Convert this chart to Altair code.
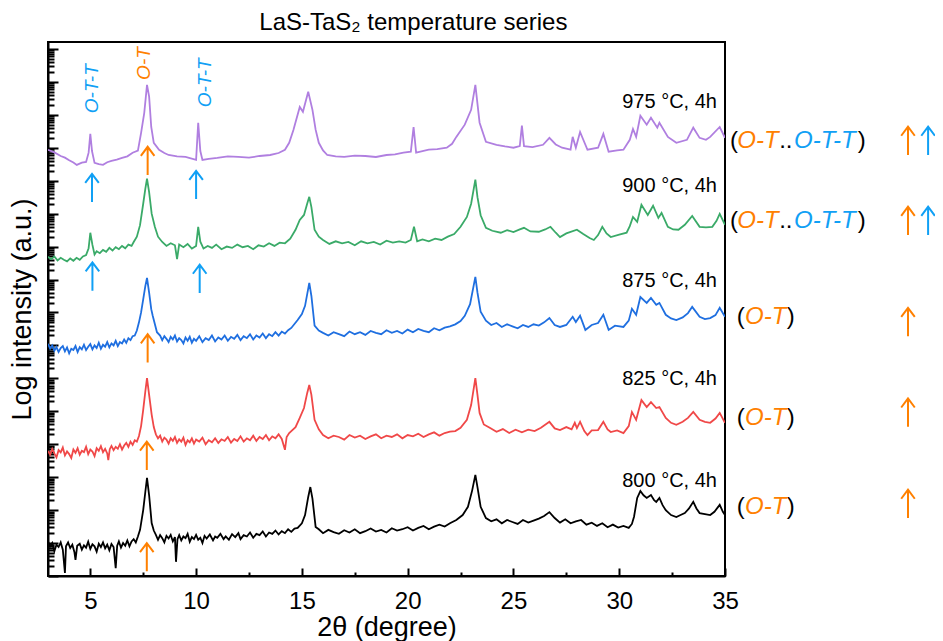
import altair as alt
import pandas as pd

FONT = "Liberation Sans"
PURPLE = "#b07fe0"
GREEN = "#3aaa68"
BLUE_LINE = "#1f6fe0"
RED = "#f04848"
BLACK = "#000000"
ORANGE = "#ff8000"
LBLUE = "#10a0f5"

# ---------------- traces: (2theta in deg, log10 intensity incl. stacking offset) ----------------
trace_975 = [
    (3.0, 12.94), (3.3, 12.86), (3.6, 12.75), (3.8, 12.70), (4.0, 12.62), (4.2, 12.55), (4.36, 12.48),
    (4.6, 12.55), (4.8, 12.57), (4.92, 12.85), (5.0, 13.42), (5.08, 12.9), (5.2, 12.54), (5.4, 12.50),
    (5.6, 12.48), (5.8, 12.56), (6.0, 12.60), (6.25, 12.64), (6.5, 12.69), (6.75, 12.74), (7.0, 12.85),
    (7.25, 12.91), (7.4, 13.45), (7.55, 14.06), (7.68, 14.91), (7.78, 14.55), (7.88, 13.63), (8.0, 13.15),
    (8.25, 12.94), (8.5, 12.84), (8.7, 12.78), (9.1, 12.74), (9.5, 12.72), (10.0, 12.63), (10.1, 13.76),
    (10.2, 12.9), (10.3, 12.63), (10.6, 12.66), (11.0, 12.69), (11.5, 12.74), (12.0, 12.72),
    (12.5, 12.70), (13.0, 12.75), (13.5, 12.78), (13.9, 12.84), (14.2, 12.94), (14.4, 13.15),
    (14.6, 13.54), (14.9, 14.24), (15.05, 14.09), (15.3, 14.70), (15.5, 14.15), (15.65, 13.55),
    (15.8, 13.15), (16.0, 12.92), (16.2, 12.78), (16.6, 12.74), (17.0, 12.72), (17.5, 12.76),
    (18.0, 12.75), (18.5, 12.72), (19.0, 12.78), (19.4, 12.80), (19.8, 12.85), (20.15, 12.88),
    (20.28, 13.63), (20.4, 12.85), (20.7, 12.90), (21.0, 12.94), (21.4, 12.96), (21.85, 13.00),
    (22.1, 13.12), (22.3, 13.33), (22.7, 13.70), (23.0, 14.15), (23.2, 14.91), (23.4, 13.76),
    (23.7, 13.18), (24.2, 13.09), (24.6, 13.04), (25.0, 13.00), (25.3, 13.05), (25.4, 13.67),
    (25.5, 13.05), (25.9, 13.02), (26.4, 13.09), (26.7, 13.30), (27.0, 13.10), (27.3, 13.00),
    (27.7, 12.94), (27.8, 13.33), (27.95, 13.00), (28.15, 13.48), (28.5, 12.94), (29.0, 13.00),
    (29.25, 13.42), (29.5, 12.88), (29.9, 12.92), (30.2, 12.94), (30.5, 13.24), (30.65, 13.57),
    (30.8, 13.33), (31.0, 13.97), (31.3, 13.70), (31.5, 13.91), (31.8, 13.61), (31.9, 13.76),
    (32.3, 13.33), (32.7, 13.15), (33.2, 13.24), (33.5, 13.61), (33.8, 13.30), (34.1, 13.24),
    (34.3, 13.33), (34.75, 13.63), (35.0, 13.30),
]

trace_900 = [
    (3.0, 9.69), (3.15, 9.62), (3.3, 9.70), (3.45, 9.58), (3.6, 9.66), (3.75, 9.60), (3.9, 9.55),
    (4.05, 9.64), (4.2, 9.57), (4.35, 9.66), (4.5, 9.60), (4.65, 9.70), (4.8, 9.74), (4.92, 9.95),
    (5.0, 10.42), (5.1, 10.05), (5.2, 9.76), (5.3, 9.86), (5.45, 9.80), (5.6, 9.90), (5.75, 9.84),
    (5.9, 9.96), (6.05, 9.88), (6.2, 9.98), (6.35, 9.92), (6.5, 10.02), (6.65, 9.95), (6.8, 10.06),
    (6.95, 10.02), (7.05, 10.14), (7.2, 10.30), (7.35, 10.65), (7.5, 11.30), (7.6, 11.75),
    (7.68, 12.06), (7.78, 11.65), (7.9, 11.00), (8.05, 10.60), (8.2, 10.30), (8.4, 10.14),
    (8.6, 10.02), (8.8, 10.10), (9.0, 10.04), (9.1, 9.62), (9.2, 10.06), (9.4, 9.98), (9.6, 10.08),
    (9.8, 9.94), (10.0, 10.02), (10.1, 10.60), (10.2, 10.15), (10.35, 9.94), (10.55, 10.02),
    (10.75, 9.96), (10.95, 10.06), (11.2, 9.92), (11.45, 10.00), (11.7, 9.96), (11.95, 10.06),
    (12.2, 9.98), (12.45, 10.02), (12.7, 9.92), (12.95, 10.04), (13.2, 10.00), (13.45, 10.10),
    (13.7, 10.02), (13.95, 10.12), (14.2, 10.10), (14.45, 10.24), (14.7, 10.51), (14.9, 10.81),
    (15.1, 10.96), (15.25, 11.30), (15.35, 11.51), (15.45, 11.20), (15.6, 10.51), (15.8, 10.30),
    (16.0, 10.20), (16.3, 10.08), (16.6, 10.16), (16.9, 10.10), (17.2, 10.14), (17.5, 10.04),
    (17.8, 10.16), (18.1, 10.10), (18.4, 10.14), (18.7, 10.06), (19.0, 10.18), (19.3, 10.12),
    (19.6, 10.16), (19.9, 10.12), (20.15, 10.20), (20.3, 10.60), (20.45, 10.16), (20.7, 10.22),
    (21.0, 10.16), (21.3, 10.24), (21.6, 10.20), (21.9, 10.30), (22.2, 10.38), (22.5, 10.60),
    (22.8, 10.90), (23.0, 11.30), (23.2, 12.03), (23.3, 11.50), (23.45, 10.95), (23.7, 10.57),
    (24.0, 10.48), (24.4, 10.42), (24.7, 10.50), (25.0, 10.44), (25.3, 10.52), (25.5, 10.57),
    (25.8, 10.46), (26.2, 10.45), (26.5, 10.52), (26.75, 10.60), (27.0, 10.42), (27.2, 10.29),
    (27.5, 10.40), (28.0, 10.51), (28.3, 10.38), (28.6, 10.26), (28.8, 10.20), (29.0, 10.35),
    (29.2, 10.60), (29.4, 10.40), (29.6, 10.29), (30.0, 10.36), (30.35, 10.42), (30.5, 10.62),
    (30.65, 10.90), (30.85, 10.75), (31.05, 11.27), (31.35, 10.96), (31.6, 11.24), (31.85, 10.87),
    (32.0, 11.02), (32.3, 10.60), (32.55, 10.52), (32.8, 10.51), (33.1, 10.66), (33.45, 10.93),
    (33.8, 10.60), (34.1, 10.58), (34.4, 10.60), (34.6, 10.78), (34.75, 10.99), (35.0, 10.66),
]

trace_875 = [
    (3.0, 7.05), (3.1, 6.90), (3.2, 7.00), (3.3, 6.84), (3.4, 6.95), (3.5, 6.80), (3.6, 6.92),
    (3.7, 6.98), (3.8, 6.82), (3.9, 6.94), (4.0, 6.76), (4.1, 6.90), (4.2, 6.86), (4.3, 6.98),
    (4.4, 6.80), (4.5, 6.95), (4.6, 6.88), (4.7, 7.02), (4.8, 6.86), (4.9, 6.96), (5.0, 7.04),
    (5.1, 6.88), (5.2, 7.00), (5.3, 6.92), (5.4, 7.08), (5.5, 6.90), (5.6, 7.02), (5.7, 6.96),
    (5.8, 7.10), (5.9, 6.94), (6.0, 7.06), (6.1, 7.00), (6.2, 7.14), (6.3, 6.98), (6.4, 7.10),
    (6.5, 7.06), (6.6, 7.18), (6.7, 7.08), (6.8, 7.22), (6.9, 7.16), (7.0, 7.28), (7.1, 7.30),
    (7.2, 7.45), (7.3, 7.70), (7.4, 8.00), (7.5, 8.40), (7.6, 8.80), (7.68, 9.05), (7.78, 8.60),
    (7.88, 8.10), (7.95, 7.90), (8.05, 7.65), (8.15, 7.40), (8.3, 7.30), (8.4, 7.16), (8.5, 7.28),
    (8.6, 7.20), (8.7, 7.10), (8.8, 7.26), (8.9, 7.18), (9.0, 7.30), (9.1, 7.12), (9.2, 7.22),
    (9.3, 7.16), (9.4, 7.06), (9.5, 7.24), (9.6, 7.14), (9.7, 7.26), (9.8, 7.08), (9.9, 7.20),
    (10.0, 7.14), (10.15, 7.28), (10.3, 7.10), (10.45, 7.22), (10.6, 7.16), (10.75, 7.30),
    (10.9, 7.12), (11.05, 7.24), (11.2, 7.18), (11.35, 7.30), (11.5, 7.14), (11.65, 7.26),
    (11.8, 7.20), (11.95, 7.32), (12.1, 7.16), (12.25, 7.28), (12.4, 7.22), (12.55, 7.34),
    (12.7, 7.18), (12.85, 7.30), (13.0, 7.24), (13.15, 7.36), (13.3, 7.22), (13.45, 7.34),
    (13.6, 7.28), (13.75, 7.40), (13.9, 7.30), (14.05, 7.42), (14.2, 7.36), (14.35, 7.46),
    (14.5, 7.53), (14.8, 7.77), (15.0, 7.95), (15.15, 8.20), (15.35, 8.90), (15.45, 8.50),
    (15.6, 7.60), (15.8, 7.45), (16.0, 7.38), (16.25, 7.30), (16.5, 7.40), (16.75, 7.34),
    (17.0, 7.28), (17.25, 7.42), (17.5, 7.34), (17.75, 7.40), (18.0, 7.32), (18.25, 7.44),
    (18.5, 7.38), (18.75, 7.34), (19.0, 7.46), (19.25, 7.38), (19.5, 7.44), (19.75, 7.36),
    (20.0, 7.48), (20.25, 7.40), (20.5, 7.50), (20.75, 7.44), (21.0, 7.40), (21.25, 7.52),
    (21.5, 7.46), (21.75, 7.54), (22.0, 7.58), (22.25, 7.64), (22.5, 7.74), (22.7, 7.90),
    (22.95, 8.25), (23.2, 9.08), (23.3, 8.60), (23.45, 8.02), (23.7, 7.75), (23.95, 7.62),
    (24.2, 7.68), (24.45, 7.56), (24.7, 7.64), (24.95, 7.58), (25.2, 7.52), (25.45, 7.62),
    (25.7, 7.56), (25.95, 7.64), (26.2, 7.60), (26.45, 7.70), (26.7, 7.83), (26.95, 7.62),
    (27.2, 7.56), (27.5, 7.62), (27.8, 7.87), (27.95, 7.71), (28.15, 7.90), (28.4, 7.47),
    (28.7, 7.62), (29.0, 7.68), (29.25, 7.93), (29.5, 7.47), (29.8, 7.60), (30.2, 7.56),
    (30.45, 7.75), (30.6, 8.11), (30.8, 7.93), (31.0, 8.47), (31.3, 8.29), (31.5, 8.44),
    (31.75, 8.23), (31.9, 8.29), (32.2, 7.93), (32.45, 7.82), (32.7, 7.77), (33.0, 7.85),
    (33.25, 7.98), (33.45, 8.17), (33.8, 7.87), (34.05, 7.80), (34.3, 7.83), (34.55, 7.92),
    (34.75, 8.14), (35.0, 7.87),
]

trace_825 = [
    (3.0, 3.80), (3.1, 3.68), (3.2, 3.86), (3.3, 3.72), (3.4, 3.60), (3.5, 3.82), (3.6, 3.75),
    (3.7, 3.90), (3.8, 3.66), (3.9, 3.78), (4.0, 3.70), (4.1, 3.58), (4.2, 3.84), (4.3, 3.74),
    (4.4, 3.88), (4.5, 3.68), (4.6, 3.80), (4.7, 3.76), (4.8, 3.92), (4.9, 3.70), (5.0, 3.84),
    (5.1, 3.78), (5.2, 3.64), (5.3, 3.88), (5.4, 3.80), (5.5, 3.94), (5.6, 3.76), (5.7, 3.86),
    (5.8, 3.72), (5.85, 3.52), (5.92, 3.85), (6.0, 3.95), (6.1, 3.82), (6.2, 3.92), (6.3, 3.86),
    (6.4, 4.00), (6.5, 3.84), (6.6, 3.96), (6.7, 4.04), (6.8, 3.92), (6.9, 4.08), (7.0, 3.98),
    (7.1, 4.12), (7.2, 4.08), (7.3, 4.25), (7.4, 4.55), (7.5, 5.04), (7.6, 5.60), (7.68, 6.01),
    (7.78, 5.50), (7.9, 4.90), (8.0, 4.52), (8.1, 4.30), (8.2, 4.18), (8.3, 4.26), (8.4, 4.08),
    (8.5, 4.20), (8.6, 4.14), (8.7, 4.02), (8.8, 4.18), (8.9, 4.10), (9.0, 4.22), (9.1, 4.04),
    (9.2, 4.15), (9.3, 4.08), (9.4, 4.20), (9.5, 3.98), (9.6, 4.12), (9.7, 4.06), (9.8, 4.18),
    (9.9, 4.02), (10.0, 4.14), (10.15, 4.08), (10.3, 4.20), (10.45, 4.00), (10.6, 4.12),
    (10.75, 4.06), (10.9, 4.18), (11.05, 4.04), (11.2, 4.15), (11.35, 4.10), (11.5, 4.22),
    (11.65, 4.05), (11.8, 4.16), (11.95, 4.10), (12.1, 4.24), (12.25, 4.08), (12.4, 4.18),
    (12.55, 4.12), (12.7, 4.26), (12.85, 4.10), (13.0, 4.22), (13.15, 4.16), (13.3, 4.28),
    (13.45, 4.12), (13.6, 4.24), (13.75, 4.18), (13.9, 4.30), (14.05, 4.16), (14.2, 3.83),
    (14.28, 4.22), (14.4, 4.34), (14.5, 4.40), (14.7, 4.52), (14.9, 4.80), (15.1, 5.10),
    (15.25, 5.55), (15.35, 5.80), (15.45, 5.50), (15.6, 4.74), (15.8, 4.45), (16.0, 4.28),
    (16.25, 4.18), (16.5, 4.26), (16.75, 4.22), (17.0, 4.14), (17.25, 4.28), (17.5, 4.20),
    (17.75, 4.26), (18.0, 4.16), (18.25, 4.24), (18.5, 4.30), (18.75, 4.18), (19.0, 4.26),
    (19.25, 4.22), (19.5, 4.30), (19.75, 4.18), (20.0, 4.28), (20.25, 4.24), (20.5, 4.32),
    (20.75, 4.22), (21.0, 4.30), (21.25, 4.36), (21.5, 4.26), (21.75, 4.34), (22.0, 4.38),
    (22.25, 4.40), (22.5, 4.50), (22.8, 4.74), (23.0, 5.19), (23.2, 6.01), (23.3, 5.50),
    (23.4, 4.95), (23.6, 4.60), (23.9, 4.49), (24.2, 4.38), (24.5, 4.46), (24.8, 4.34),
    (25.1, 4.44), (25.4, 4.36), (25.7, 4.44), (26.0, 4.40), (26.3, 4.50), (26.7, 4.68),
    (26.95, 4.48), (27.2, 4.43), (27.5, 4.52), (27.75, 4.45), (27.9, 4.65), (28.0, 4.49),
    (28.15, 4.68), (28.35, 4.40), (28.5, 4.28), (28.7, 4.42), (29.0, 4.43), (29.25, 4.68),
    (29.45, 4.45), (29.6, 4.37), (29.9, 4.42), (30.2, 4.34), (30.45, 4.55), (30.6, 4.98),
    (30.8, 4.74), (31.05, 5.34), (31.3, 5.13), (31.5, 5.28), (31.75, 5.10), (31.9, 5.13),
    (32.2, 4.80), (32.45, 4.65), (32.7, 4.59), (33.0, 4.68), (33.25, 4.80), (33.5, 4.98),
    (33.8, 4.74), (34.05, 4.68), (34.3, 4.65), (34.55, 4.78), (34.75, 4.95), (35.0, 4.65),
]

trace_800 = [
    (3.0, 1.05), (3.1, 0.90), (3.2, 1.00), (3.3, 0.75), (3.4, 0.95), (3.5, 0.88), (3.6, 1.02),
    (3.7, 0.80), (3.8, 0.09), (3.85, 0.90), (3.95, 1.02), (4.05, 0.85), (4.15, 0.95), (4.25, 0.72),
    (4.3, 0.49), (4.38, 0.92), (4.5, 0.98), (4.6, 0.80), (4.7, 0.93), (4.8, 0.86), (4.9, 1.04),
    (5.0, 0.82), (5.1, 0.96), (5.2, 0.90), (5.3, 0.74), (5.4, 0.98), (5.5, 0.88), (5.6, 1.02),
    (5.7, 0.84), (5.8, 0.95), (5.9, 0.78), (6.0, 0.97), (6.1, 0.88), (6.2, 0.24), (6.27, 0.92),
    (6.35, 1.05), (6.45, 0.86), (6.55, 1.00), (6.65, 0.92), (6.75, 1.08), (6.85, 0.90), (6.95, 1.05),
    (7.05, 1.12), (7.15, 1.02), (7.25, 1.20), (7.35, 1.40), (7.5, 2.00), (7.6, 2.55), (7.68, 2.98),
    (7.78, 2.45), (7.9, 1.61), (8.0, 1.38), (8.1, 1.25), (8.2, 1.10), (8.3, 1.24), (8.4, 1.15),
    (8.5, 1.02), (8.6, 1.22), (8.7, 1.14), (8.8, 1.25), (8.9, 1.05), (9.0, 1.18), (9.05, 0.43),
    (9.12, 1.12), (9.2, 1.24), (9.3, 1.08), (9.4, 1.20), (9.5, 1.15), (9.6, 1.28), (9.7, 1.04),
    (9.8, 1.18), (9.9, 1.12), (10.0, 1.25), (10.1, 1.10), (10.2, 1.16), (10.3, 1.00), (10.4, 1.22),
    (10.5, 1.14), (10.65, 1.26), (10.8, 1.08), (10.9, 1.20), (11.0, 1.16), (11.15, 1.28),
    (11.3, 1.12), (11.4, 1.20), (11.55, 1.10), (11.7, 1.27), (11.85, 1.18), (12.0, 1.30),
    (12.1, 1.12), (12.25, 1.24), (12.4, 1.20), (12.55, 1.32), (12.7, 1.16), (12.85, 1.28),
    (13.0, 1.24), (13.15, 1.35), (13.3, 1.20), (13.45, 1.32), (13.6, 1.28), (13.75, 1.38),
    (13.9, 1.26), (14.05, 1.36), (14.2, 1.30), (14.35, 1.42), (14.5, 1.34), (14.65, 1.44),
    (14.8, 1.46), (15.0, 1.60), (15.15, 1.85), (15.3, 2.40), (15.4, 2.70), (15.5, 2.35),
    (15.65, 1.49), (15.8, 1.42), (16.0, 1.30), (16.25, 1.40), (16.5, 1.33), (16.75, 1.28),
    (17.0, 1.39), (17.25, 1.32), (17.5, 1.42), (17.75, 1.30), (18.0, 1.36), (18.25, 1.44),
    (18.5, 1.35), (18.75, 1.40), (19.0, 1.32), (19.25, 1.45), (19.5, 1.38), (19.75, 1.42),
    (20.0, 1.48), (20.25, 1.38), (20.5, 1.46), (20.75, 1.52), (21.0, 1.42), (21.25, 1.50),
    (21.5, 1.56), (21.75, 1.50), (22.0, 1.60), (22.3, 1.70), (22.6, 1.85), (22.85, 2.10),
    (23.05, 2.60), (23.2, 3.07), (23.3, 2.70), (23.45, 2.10), (23.7, 1.76), (23.95, 1.66),
    (24.2, 1.72), (24.45, 1.60), (24.7, 1.70), (24.95, 1.64), (25.2, 1.58), (25.45, 1.70),
    (25.7, 1.62), (25.95, 1.68), (26.2, 1.74), (26.45, 1.82), (26.7, 1.94), (26.95, 1.76),
    (27.2, 1.62), (27.45, 1.72), (27.7, 1.60), (27.95, 1.66), (28.2, 1.70), (28.45, 1.56),
    (28.7, 1.62), (28.95, 1.52), (29.2, 1.60), (29.45, 1.48), (29.7, 1.56), (29.95, 1.47),
    (30.2, 1.52), (30.45, 1.46), (30.6, 1.58), (30.7, 1.80), (30.85, 2.37), (31.0, 2.58),
    (31.15, 2.45), (31.3, 2.37), (31.5, 2.46), (31.65, 2.30), (31.75, 2.25), (31.9, 2.37),
    (32.05, 2.15), (32.2, 2.00), (32.45, 1.85), (32.7, 1.79), (32.9, 1.85), (33.1, 1.91),
    (33.3, 2.05), (33.5, 2.25), (33.65, 2.05), (33.8, 1.91), (34.05, 1.88), (34.3, 1.85),
    (34.5, 1.95), (34.75, 2.16), (34.9, 1.95), (35.0, 1.85),
]

series_names = ["975", "900", "875", "825", "800"]
series_colors = [PURPLE, GREEN, BLUE_LINE, RED, BLACK]
series_data = [trace_975, trace_900, trace_875, trace_825, trace_800]

# ---------------- annotations ----------------
title_text = ["LaS-TaS\u2082 temperature series"]
title_tt = [20.27]
title_li = [16.58]

temp_text = ["975 °C, 4h", "900 °C, 4h", "875 °C, 4h", "825 °C, 4h", "800 °C, 4h"]
temp_tt = [34.62, 34.62, 34.62, 34.62, 34.62]
temp_li = [14.39, 11.83, 8.96, 5.98, 2.88]

phase_text = ["O-T-T", "O-T", "O-T-T"]
phase_tt = [5.08, 7.52, 10.4]
phase_li = [14.05, 15.06, 14.23]
phase_col = [LBLUE, ORANGE, LBLUE]

arrow_tt = [5.08, 7.71, 10.0, 5.1, 10.17, 7.71, 7.67, 7.67, 43.65, 44.6, 43.65, 44.6, 43.65, 43.65, 43.65]
arrow_li = [11.78, 12.60, 11.87, 9.09, 9.02, 6.91, 3.65, 0.57, 13.21, 13.21, 10.78, 10.78, 7.71, 4.96, 2.19]
arrow_col = [LBLUE, ORANGE, LBLUE, LBLUE, LBLUE, ORANGE, ORANGE, ORANGE,
             ORANGE, LBLUE, ORANGE, LBLUE, ORANGE, ORANGE, ORANGE]

# right-hand phase notes, split into plain and italic coloured pieces
note_plain_text = ["(", "..", ")", "(", "..", ")", "(", ")", "(", ")", "(", ")"]
note_plain_tt = [35.24, 37.56, 41.27, 35.24, 37.56, 41.27, 35.55, 37.92, 35.55, 37.92, 35.55, 37.92]
note_plain_li = [13.21, 13.21, 13.21, 10.78, 10.78, 10.78, 7.87, 7.87, 4.80, 4.80, 2.08, 2.08]
note_it_text = ["O-T", "O-T-T", "O-T", "O-T-T", "O-T", "O-T", "O-T"]
note_it_tt = [35.58, 38.26, 35.58, 38.26, 35.95, 35.95, 35.95]
note_it_li = [13.21, 13.21, 10.78, 10.78, 7.87, 4.80, 2.08]
note_it_col = [ORANGE, LBLUE, ORANGE, LBLUE, ORANGE, ORANGE, ORANGE]

# ---------------- build tables ----------------
rows = []
for name, pts in zip(series_names, series_data):
    for a, b in pts:
        rows.append({"tt": a, "I": 10 ** b, "series": name})
df_lines = pd.DataFrame(rows)


def table(xs, ls, texts=None, cols=None):
    d = {"tt": xs, "I": [10 ** v for v in ls]}
    if texts is not None:
        d["txt"] = texts
    if cols is not None:
        d["col"] = cols
    return pd.DataFrame(d)


df_title = table(title_tt, title_li, title_text)
df_temp = table(temp_tt, temp_li, temp_text)
df_phase = table(phase_tt, phase_li, phase_text, phase_col)
df_arrow = table(arrow_tt, arrow_li, None, arrow_col)
df_plain = table(note_plain_tt, note_plain_li, note_plain_text)
df_it = table(note_it_tt, note_it_li, note_it_text, note_it_col)

# ---------------- scales / axes ----------------
x_ticks = [5 + 2.5 * i for i in range(13)]
y_ticks = []
for k in range(17):
    y_ticks.append(10.0 ** k)
    if k < 16:
        for m in range(2, 10):
            y_ticks.append(m * 10.0 ** k)

x_scale = alt.Scale(domain=[3, 35], nice=False, zero=False)
y_scale = alt.Scale(type="log", domain=[1, 10 ** 16.21], nice=False)

x_axis = alt.Axis(
    values=x_ticks,
    labelExpr="datum.value % 5 == 0 ? datum.label : ''",
    tickSize={"expr": "datum.value % 5 == 0 ? -8 : -4"},
    labelPadding=21,
    labelFontSize=24,
    labelOverlap=False,
    labelFlush=False,
    title="2\u03b8 (degree)",
    titleFontSize=27,
    titlePadding={"expr": "-3"},
)
y_axis = alt.Axis(
    values=y_ticks,
    labels=False,
    tickSize={"expr": "abs(log(datum.value)/LN10 - round(log(datum.value)/LN10)) < 0.001 ? -10 : -6"},
    title="Log intensity (a.u.)",
    titleFontSize=27,
    titlePadding=11,
)

X = alt.X("tt:Q", scale=x_scale, axis=x_axis)
Y = alt.Y("I:Q", scale=y_scale, axis=y_axis)

lines = alt.Chart(df_lines).mark_line(strokeWidth=1.8, clip=True).encode(
    x=X, y=Y,
    color=alt.Color("series:N", scale=alt.Scale(domain=series_names, range=series_colors), legend=None),
    order="tt:Q",
)

title = alt.Chart(df_title).mark_text(align="center", baseline="alphabetic", font=FONT, fontSize=24,
                                      color="black").encode(x=X, y=Y, text="txt:N")

temps = alt.Chart(df_temp).mark_text(align="right", baseline="middle", font=FONT, fontSize=20,
                                     color="black").encode(x=X, y=Y, text="txt:N")

phases = alt.Chart(df_phase).mark_text(align="left", baseline="middle", angle=270, font=FONT, fontSize=19,
                                       fontStyle="italic").encode(
    x=X, y=Y, text="txt:N", color=alt.Color("col:N", scale=None))

ARROW_PATH = "M0,1L0,-0.97M-0.48,-0.36L0,-1L0.48,-0.36"
arrows = alt.Chart(df_arrow).mark_point(shape=ARROW_PATH, size=800, filled=False, strokeWidth=2,
                                        opacity=1).encode(
    x=X, y=Y, color=alt.Color("col:N", scale=None))

plain = alt.Chart(df_plain).mark_text(align="left", baseline="middle", font=FONT, fontSize=24,
                                      color="black").encode(x=X, y=Y, text="txt:N")

ital = alt.Chart(df_it).mark_text(align="left", baseline="middle", font=FONT, fontSize=24,
                                  fontStyle="italic").encode(
    x=X, y=Y, text="txt:N", color=alt.Color("col:N", scale=None))

chart = alt.layer(lines, title, temps, phases, arrows, plain, ital).resolve_scale(
    color="independent"
).properties(
    width=677,
    height=534,
    autosize=alt.AutoSizeParams(type="none"),
    padding={"left": 40, "top": 34, "right": 210, "bottom": 65},
).configure_view(
    stroke="black", strokeWidth=2
).configure_axis(
    grid=False,
    domainColor="black", domainWidth=2,
    tickColor="black", tickWidth=2,
    labelFont=FONT, labelColor="black",
    titleFont=FONT, titleColor="black", titleFontWeight="normal",
)

chart.save("out.html", embed_options={"renderer": "svg", "actions": False})
